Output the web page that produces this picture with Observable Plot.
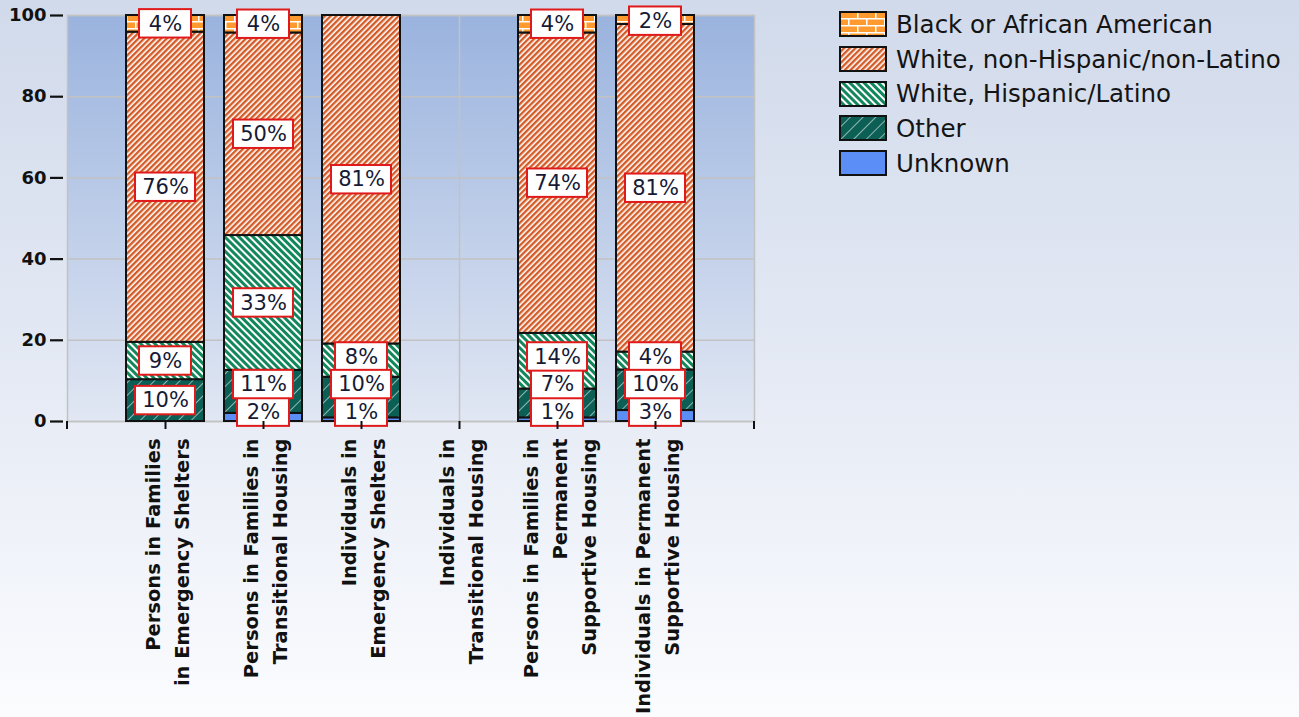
<!DOCTYPE html>
<html>
<head>
<meta charset="utf-8">
<script src="https://cdn.jsdelivr.net/npm/d3@7"></script>
<script src="https://cdn.jsdelivr.net/npm/@observablehq/plot@0.6"></script>
<style>
  html, body { margin: 0; padding: 0; }
  body {
    width: 1299px; height: 717px; overflow: hidden; position: relative;
    background: linear-gradient(to bottom, #d1daeb 0%, #e6ebf5 55%, #fbfcfe 100%);
    font-family: "DejaVu Sans", sans-serif;
  }
  #chart { position: absolute; left: 0; top: 0; }
  #legend { position: absolute; left: 839px; top: 7px; }
  .lrow { display: flex; align-items: center; height: 34.7px; }
  .lrow svg { flex: none; }
  .lrow span { margin-left: 9px; font-size: 24.5px; color: #141414; white-space: nowrap; }
</style>
</head>
<body>
<svg width="0" height="0" style="position:absolute">
  <defs>
    <linearGradient id="plotBg" x1="0" y1="0" x2="0" y2="1">
      <stop offset="0" stop-color="#9ab3de"/>
      <stop offset="1" stop-color="#e1e7f3"/>
    </linearGradient>
    <pattern id="pBlack" patternUnits="userSpaceOnUse" width="18" height="14">
      <rect width="18" height="14" fill="#ff9a2e"/>
      <rect x="0" y="0" width="18" height="1.5" fill="#ffffff"/>
      <rect x="0" y="7" width="18" height="1.5" fill="#ffffff"/>
      <rect x="0" y="0" width="1.5" height="7" fill="#ffffff"/>
      <rect x="9" y="7" width="1.5" height="7" fill="#ffffff"/>
    </pattern>
    <pattern id="pWnH" patternUnits="userSpaceOnUse" width="4" height="4" patternTransform="rotate(45)">
      <rect width="4" height="4" fill="#ffffff"/>
      <rect width="2.4" height="4" fill="#d25b27"/>
    </pattern>
    <pattern id="pWH" patternUnits="userSpaceOnUse" width="5" height="5" patternTransform="rotate(-45)">
      <rect width="5" height="5" fill="#ffffff"/>
      <rect width="3" height="5" fill="#13875c"/>
    </pattern>
    <pattern id="pOther" patternUnits="userSpaceOnUse" width="9" height="9" patternTransform="rotate(45)">
      <rect width="9" height="9" fill="#0b5f55"/>
      <rect width="1" height="9" fill="#ffffff" fill-opacity="0.55"/>
    </pattern>
    <pattern id="pUnknown" patternUnits="userSpaceOnUse" width="4" height="4">
      <rect width="4" height="4" fill="#5c8ef7"/>
    </pattern>
  </defs>
</svg>
<div id="chart"></div>
<div id="legend"></div>
<script>
// ---- data ----
const categories = [
  "Persons in Families\nin Emergency Shelters",
  "Persons in Families in\nTransitional Housing",
  "Individuals in\nEmergency Shelters",
  "Individuals in\nTransitional Housing",
  "Persons in Families in\nPermanent\nSupportive Housing",
  "Individuals in Permanent\nSupportive Housing"
];
// stack order, bottom to top
const races = [
  "Unknown",
  "Other",
  "White, Hispanic/Latino",
  "White, non-Hispanic/non-Latino",
  "Black or African American"
];
const unknownPct      = [0,    2.0,  0.9,  0, 0.9,  2.7];
const otherPct        = [10.3, 10.6, 10.0, 0, 7.1,  10.0];
const whiteHispPct    = [9.2,  33.2, 8.2,  0, 13.7, 4.4];
const whiteNonHispPct = [76.4, 49.9, 80.9, 0, 74.0, 80.7];
const blackPct        = [4.1,  4.3,  0,    0, 4.3,  2.2];
const yTicks = [0, 20, 40, 60, 80, 100];
const legendOrder = [
  "Black or African American",
  "White, non-Hispanic/non-Latino",
  "White, Hispanic/Latino",
  "Other",
  "Unknown"
];

// ---- styling ----
const patternOf = {
  "Unknown": "url(#pUnknown)",
  "Other": "url(#pOther)",
  "White, Hispanic/Latino": "url(#pWH)",
  "White, non-Hispanic/non-Latino": "url(#pWnH)",
  "Black or African American": "url(#pBlack)"
};

const series = [unknownPct, otherPct, whiteHispPct, whiteNonHispPct, blackPct];
const segments = [];
races.forEach((r, ri) => {
  categories.forEach((c, ci) => {
    const v = series[ri][ci];
    if (v > 0) segments.push({category: c, race: r, value: v});
  });
});

// label positions: segment midpoints, nudged apart to avoid overlap
const labels = [];
const minPos = 2.3, gap = 6.8, maxPos = 98.6;
categories.forEach((c, ci) => {
  let cum = 0, prev = -Infinity;
  races.forEach((r, ri) => {
    const v = series[ri][ci];
    if (v > 0) {
      let pos = Math.max(cum + v / 2, minPos, prev + gap);
      pos = Math.min(pos, maxPos);
      labels.push({category: c, pos, text: Math.round(v) + "%"});
      prev = pos;
    }
    cum += v;
  });
});

const boxHalf = 3.5;
const endTicks = (...args) => {
  const dims = args.find(a => a && a.marginLeft !== undefined);
  const g = d3.create("svg:g");
  const yb = dims.height - dims.marginBottom;
  [dims.marginLeft, dims.width - dims.marginRight].forEach(x => {
    g.append("line").attr("x1", x).attr("x2", x).attr("y1", yb).attr("y2", yb + 8)
      .attr("stroke", "#111").attr("stroke-width", 2);
  });
  return g.node();
};

const chart = Plot.plot({
  width: 1299,
  height: 717,
  marginLeft: 67,
  marginRight: 545,
  marginTop: 15,
  marginBottom: 296,
  style: {background: "transparent", fontFamily: "DejaVu Sans, sans-serif"},
  x: {type: "band", domain: categories, paddingInner: 0.2, paddingOuter: 0.6, label: null},
  y: {domain: [0, 100], label: null},
  color: {domain: races, range: races.map(r => patternOf[r])},
  marks: [
    Plot.frame({fill: "url(#plotBg)", stroke: "none"}),
    Plot.gridY({ticks: yTicks, stroke: "#c2c2c2", strokeOpacity: 1, strokeWidth: 1.5}),
    Plot.gridX({stroke: "#c2c2c2", strokeOpacity: 1, strokeWidth: 1.5}),
    Plot.frame({stroke: "#c2c2c2", strokeWidth: 1.5}),
    Plot.barY(segments, {x: "category", y: "value", fill: "race", stroke: "#111", strokeWidth: 2}),
    Plot.barY(labels.filter(d => d.text.length <= 2), {
      x: "category", y1: d => d.pos - boxHalf, y2: d => d.pos + boxHalf,
      insetLeft: 13, insetRight: 13, fill: "white", stroke: "#e01a1a", strokeWidth: 2
    }),
    Plot.barY(labels.filter(d => d.text.length > 2), {
      x: "category", y1: d => d.pos - boxHalf, y2: d => d.pos + boxHalf,
      insetLeft: 9, insetRight: 9, fill: "white", stroke: "#e01a1a", strokeWidth: 2
    }),
    Plot.text(labels, {x: "category", y: "pos", text: "text", fontSize: 21, fill: "#161a36"}),
    Plot.axisY({ticks: yTicks, tickSize: 13, dx: -4, tickPadding: 4, fontSize: 18, fontWeight: "bold", color: "#111", strokeWidth: 2.2, label: null}),
    Plot.axisX({tickSize: 8, tickPadding: 9, tickRotate: -90, fontSize: 19.5, fontWeight: "bold", lineHeight: 1.5, color: "#111", strokeWidth: 2, label: null}),
    endTicks
  ]
});
document.getElementById("chart").appendChild(chart);

// ---- legend ----
const legend = d3.select("#legend");
legendOrder.forEach(r => {
  const row = legend.append("div").attr("class", "lrow");
  const sw = row.append("svg").attr("width", 48).attr("height", 26);
  sw.append("rect").attr("x", 1).attr("y", 1).attr("width", 46).attr("height", 24)
    .attr("fill", patternOf[r]).attr("stroke", "#111").attr("stroke-width", 2);
  row.append("span").text(r);
});
</script>
</body>
</html>
